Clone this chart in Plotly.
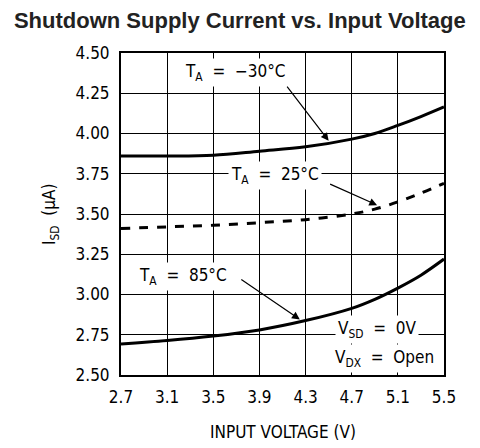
import plotly.graph_objects as go

voltage = [2.7, 3.1, 3.5, 3.9, 4.3, 4.7, 4.9, 5.1, 5.3, 5.5]
i_m30 = [3.86, 3.86, 3.865, 3.89, 3.917, 3.965, 4.00, 4.05, 4.105, 4.165]
i_25 = [3.41, 3.42, 3.43, 3.446, 3.465, 3.50, 3.53, 3.575, 3.63, 3.69]
i_85 = [2.693, 2.714, 2.742, 2.78, 2.838, 2.914, 2.97, 3.04, 3.12, 3.22]

x_ticks = [2.7, 3.1, 3.5, 3.9, 4.3, 4.7, 5.1, 5.5]
y_ticks = [2.50, 2.75, 3.00, 3.25, 3.50, 3.75, 4.00, 4.25, 4.50]

FONT = "Liberation Sans Narrow, DejaVu Sans Condensed, Liberation Sans, sans-serif"
FS = 17

fig = go.Figure()
fig.add_trace(go.Scatter(x=voltage, y=i_m30, mode="lines", line=dict(color="black", width=3, shape="spline"), showlegend=False))
fig.add_trace(go.Scatter(x=voltage, y=i_25, mode="lines", line=dict(color="black", width=3, dash="dash", shape="spline"), showlegend=False))
fig.add_trace(go.Scatter(x=voltage, y=i_85, mode="lines", line=dict(color="black", width=3, shape="spline"), showlegend=False))

def label(text, x, y):
    fig.add_annotation(x=x, y=y, xref="x", yref="y", text=text, showarrow=False,
                       bgcolor="white", font=dict(family=FONT, size=FS, color="black"), borderpad=2)

def arrow(tx, ty, hx, hy):
    fig.add_annotation(x=hx, y=hy, ax=tx, ay=ty, xref="x", yref="y", axref="x", ayref="y",
                       text="", showarrow=True, arrowhead=2, arrowsize=1.3, arrowwidth=1.2, arrowcolor="black")

label("T<sub>A</sub>  =  −30°C", 3.69, 4.38)
arrow(4.13, 4.30, 4.50, 3.955)
label("T<sub>A</sub>  =  25°C", 4.035, 3.74)
arrow(4.50, 3.69, 4.92, 3.555)
label("T<sub>A</sub>  =  85°C", 3.24, 3.114)
arrow(3.73, 3.10, 4.25, 2.845)
label("V<sub>SD</sub>  =  0V", 4.92, 2.78)
label("V<sub>DX</sub>  =  Open", 4.98, 2.605)

# axis titles
fig.add_annotation(x=0.5, y=-0.177, xref="paper", yref="paper", text="INPUT VOLTAGE (V)",
                   showarrow=False, font=dict(family=FONT, size=FS, color="black"), yanchor="middle")
fig.add_annotation(x=-0.22, y=0.5, xref="paper", yref="paper", text="I<sub>SD</sub>  (μA)", textangle=-90,
                   showarrow=False, font=dict(family=FONT, size=FS, color="black"), xanchor="center")

fig.update_layout(
    width=480, height=448,
    margin=dict(l=113, r=44, t=45, b=81),
    paper_bgcolor="white", plot_bgcolor="white",
    title=dict(text="<b>Shutdown Supply Current vs. Input Voltage</b>", x=0.483, xanchor="center",
               y=0.973, yanchor="middle", font=dict(family="Liberation Sans, Arial", size=22, color="#222222")),
    font=dict(family=FONT, size=FS, color="black"),
    xaxis=dict(range=[2.7, 5.5], tickvals=x_ticks, ticktext=[f"{v:.1f}" for v in x_ticks],
               showgrid=True, gridcolor="black", gridwidth=1, zeroline=False, automargin=False,
               showline=True, linecolor="black", linewidth=2, mirror=True, ticks="outside", ticklen=6, tickcolor="white"),
    yaxis=dict(range=[2.5, 4.5], tickvals=y_ticks, ticktext=[f"{v:.2f}" for v in y_ticks],
               showgrid=True, gridcolor="black", gridwidth=1, zeroline=False, automargin=False,
               showline=True, linecolor="black", linewidth=2, mirror=True, ticks="outside", ticklen=6, tickcolor="white"),
)

fig.write_html("out.html")
